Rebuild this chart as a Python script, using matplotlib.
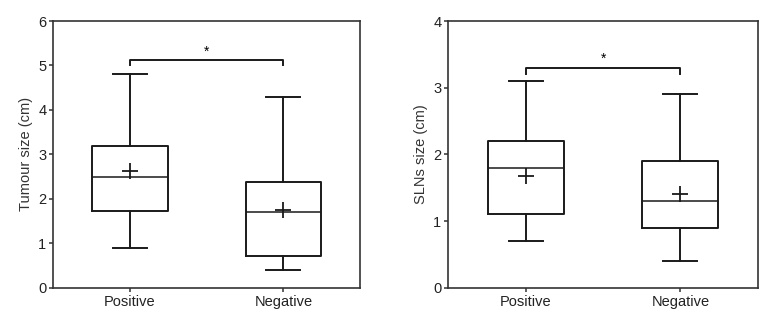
import matplotlib.pyplot as plt

plt.rcParams['font.family'] = ['Liberation Sans', 'DejaVu Sans']

groups = ['Positive', 'Negative']

# five-number summaries: whislo, q1, med, q3, whishi, mean
tumour_stats = {
    'Positive': (0.9, 1.72, 2.5, 3.18, 4.8, 2.63),
    'Negative': (0.4, 0.72, 1.7, 2.38, 4.3, 1.75),
}
sln_stats = {
    'Positive': (0.7, 1.1, 1.8, 2.2, 3.1, 1.67),
    'Negative': (0.4, 0.9, 1.3, 1.9, 2.9, 1.40),
}

tumour_bracket = (5.0, 5.12)
sln_bracket = (3.2, 3.3)


def to_bxp(stats):
    out = []
    for g in groups:
        lo, q1, med, q3, hi, mean = stats[g]
        out.append(dict(label=g, whislo=lo, q1=q1, med=med, q3=q3,
                        whishi=hi, mean=mean, fliers=[]))
    return out


def draw_panel(ax, stats, ylabel, ymax, bracket):
    lw = 1.4
    props = dict(color='#1a1a1a', linewidth=lw)
    ax.bxp(to_bxp(stats), positions=[0, 1], widths=0.49, showmeans=True,
           boxprops=props, whiskerprops=props, capprops=props,
           medianprops=dict(color='#1a1a1a', linewidth=1.1),
           meanprops=dict(marker='+', markersize=12, markeredgecolor='#1a1a1a',
                          markeredgewidth=1.3),
           capwidths=0.22, showfliers=False)
    ax.set_xlim(-0.5, 1.5)
    ax.set_ylim(0, ymax)
    ax.set_yticks(range(0, ymax + 1))
    ax.set_xticks([0, 1], groups)
    ax.set_ylabel(ylabel, fontsize=10.5, color='#333333')
    ax.tick_params(labelsize=10.5, length=3, width=1.1, color='#333333',
                   labelcolor='#222222', pad=2)
    for s in ax.spines.values():
        s.set_linewidth(1.2)
        s.set_color('#333333')
    low, high = bracket
    ax.plot([0, 0, 1, 1], [low, high, high, low], color='#1a1a1a', linewidth=lw)
    ax.text(0.5, high + 0.04 * ymax / 6, '*', ha='center', va='bottom', fontsize=10)


fig = plt.figure(figsize=(7.6, 3.14), dpi=100)
ax1 = fig.add_axes([0.0702, 0.0838, 0.4035, 0.8493])
ax2 = fig.add_axes([0.5899, 0.0838, 0.4071, 0.8493])

draw_panel(ax1, tumour_stats, 'Tumour size (cm)', 6, tumour_bracket)
draw_panel(ax2, sln_stats, 'SLNs size (cm)', 4, sln_bracket)

fig.savefig('out.png', dpi=100)
